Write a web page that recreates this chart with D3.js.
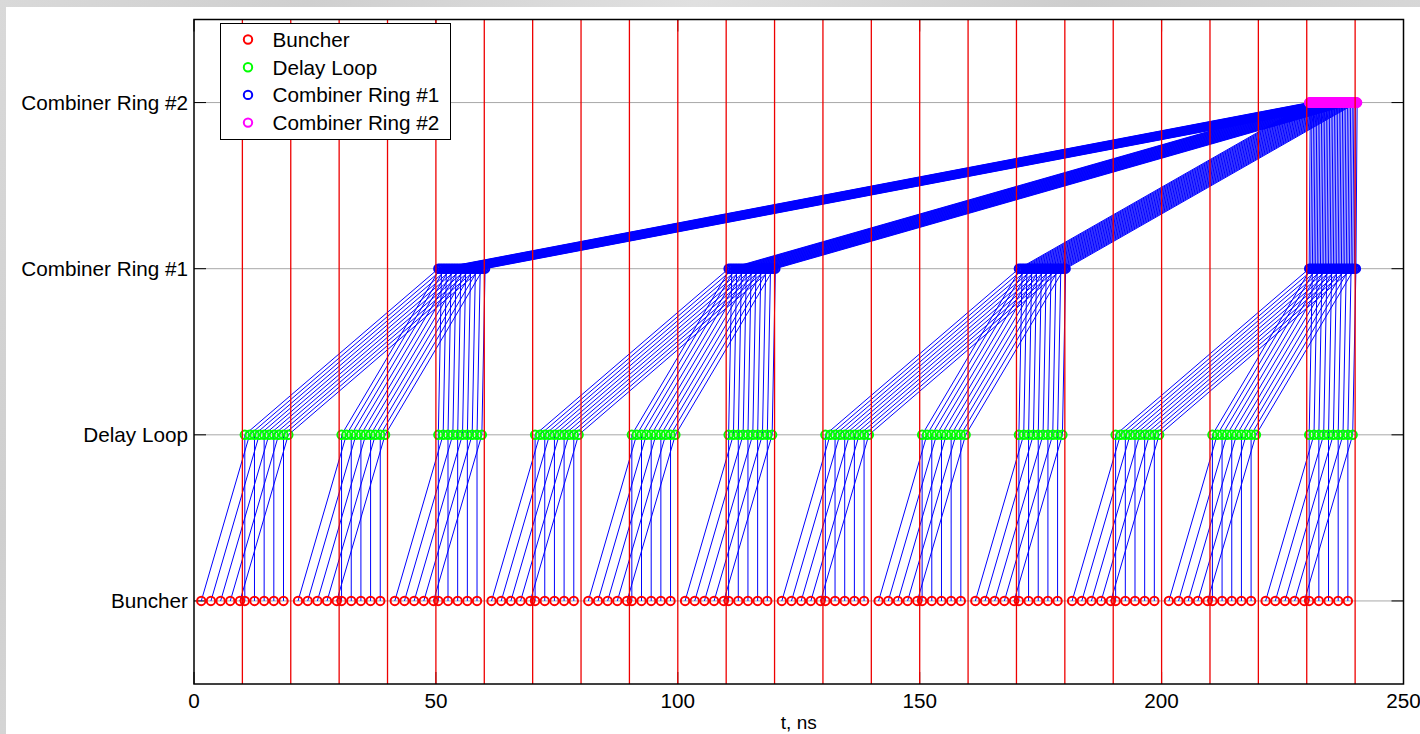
<!DOCTYPE html>
<html>
<head>
<meta charset="utf-8">
<script src="https://cdn.jsdelivr.net/npm/d3@7"></script>
<style>
    body { margin: 0; background: #fff; }
    svg { display: block; font-family: "Liberation Sans", Arial, sans-serif; }
</style>
</head>
<body>
<svg id="chart" width="1420" height="734"></svg>
<script>
// Stages (y categories), bottom to top
const stages = ['Buncher', 'Delay Loop', 'Combiner Ring #1', 'Combiner Ring #2'];
const stageColors = ['#ff0000', '#00ff00', '#0000ff', '#ff00ff'];

// Buncher: one 20 ns period starts at each of these times
const buncherPeriods = [0, 20, 40, 60, 80, 100, 120, 140, 160, 180, 200, 220];
// bunch times inside a period: first half goes round the delay loop, second half passes straight
const buncherOffsetsDelayed = [1.5, 3.5, 5.5, 7.5, 9.5];
const buncherOffsetsDirect = [10.5, 12.5, 14.5, 16.5, 18.5];
const delayLoopDelays = [10, 0];

// Combiner ring #1: 3 delay-loop trains merged per turn
const ring1Delays = [40, 20 + 1 / 3, 2 / 3];
// Combiner ring #2: the 4 ring #1 trains merged
const ring2Delays = [180, 120 + 1 / 12, 60 + 2 / 12, 3 / 12];

// red markers of the 10 ns slots
const slotLines = [10, 20, 30, 40, 50, 60, 70, 80, 90, 100, 110, 120,
                   130, 140, 150, 160, 170, 180, 190, 200, 210, 220, 230, 240];

const xTicks = [0, 50, 100, 150, 200, 250];

// ---- propagate bunches through the stages ----
const bunches = [];
buncherPeriods.forEach((p, i) => {
    [buncherOffsetsDelayed, buncherOffsetsDirect].forEach((offs, h) => {
        offs.forEach(o => {
            const t0 = p + o;
            const t1 = t0 + delayLoopDelays[h];
            const t2 = t1 + ring1Delays[i % 3];
            const t3 = t2 + ring2Delays[Math.floor(i / 3)];
            bunches.push([t0, t1, t2, t3]);
        });
    });
});

const svg = d3.select('#chart');

// backdrop
const defs = svg.append('defs');
const grad = defs.append('linearGradient').attr('id', 'bg').attr('x1', 0).attr('x2', 1).attr('y1', 0).attr('y2', 0.3);
[['0%', '#d9d9d9'], ['20%', '#cfcfcf'], ['45%', '#e0e0e0'], ['70%', '#cdcdcd'], ['100%', '#dadada']]
    .forEach(s => grad.append('stop').attr('offset', s[0]).attr('stop-color', s[1]));
svg.append('rect').attr('width', 1420).attr('height', 734).attr('fill', 'url(#bg)');
svg.append('rect').attr('x', 6).attr('y', 7).attr('width', 1414).attr('height', 727).attr('fill', '#fff');

const plot = { left: 194, right: 1403.5, top: 19.5, bottom: 684 };

const x = d3.scaleLinear().domain([0, 250]).range([plot.left, plot.right]);
const y = d3.scaleLinear().domain([0.5, 4.5]).range([plot.bottom, plot.top]);
const level = i => y(i + 1);

// grid
svg.append('g')
    .selectAll('line')
    .data(stages)
    .join('line')
    .attr('x1', plot.left).attr('x2', plot.right)
    .attr('y1', (d, i) => level(i)).attr('y2', (d, i) => level(i))
    .attr('stroke', '#a8a8a8').attr('stroke-width', 1);

// ticks (inside)
const tickLen = 12;
const ticks = svg.append('g').attr('stroke', '#000').attr('stroke-width', 1);
stages.forEach((d, i) => {
    ticks.append('line').attr('x1', plot.left).attr('x2', plot.left + tickLen)
        .attr('y1', level(i)).attr('y2', level(i));
    ticks.append('line').attr('x1', plot.right).attr('x2', plot.right - tickLen)
        .attr('y1', level(i)).attr('y2', level(i));
});
xTicks.forEach(t => {
    ticks.append('line').attr('x1', x(t)).attr('x2', x(t))
        .attr('y1', plot.bottom).attr('y2', plot.bottom - tickLen);
    ticks.append('line').attr('x1', x(t)).attr('x2', x(t))
        .attr('y1', plot.top).attr('y2', plot.top + tickLen);
});

// connecting lines between stages
const links = [];
bunches.forEach(b => {
    for (let s = 0; s < 3; s++) links.push({ t0: b[s], t1: b[s + 1], s });
});
svg.append('g')
    .selectAll('line')
    .data(links)
    .join('line')
    .attr('x1', d => x(d.t0)).attr('y1', d => level(d.s))
    .attr('x2', d => x(d.t1)).attr('y2', d => level(d.s + 1))
    .attr('stroke', '#0000ff').attr('stroke-width', 1);

// bunch markers
stages.forEach((name, s) => {
    svg.append('g')
        .selectAll('circle')
        .data(bunches)
        .join('circle')
        .attr('cx', d => x(d[s]))
        .attr('cy', level(s))
        .attr('r', 4.2)
        .attr('fill', 'none')
        .attr('stroke', stageColors[s])
        .attr('stroke-width', 2);
});

// red slot lines
svg.append('g')
    .selectAll('line')
    .data(slotLines)
    .join('line')
    .attr('x1', d => x(d)).attr('x2', d => x(d))
    .attr('y1', plot.top).attr('y2', plot.bottom)
    .attr('stroke', '#ee0000').attr('stroke-width', 1.3);

// axes box
svg.append('rect')
    .attr('x', plot.left).attr('y', plot.top)
    .attr('width', plot.right - plot.left).attr('height', plot.bottom - plot.top)
    .attr('fill', 'none').attr('stroke', '#000').attr('stroke-width', 1.5);

// tick labels
svg.append('g')
    .selectAll('text')
    .data(stages)
    .join('text')
    .attr('x', 188).attr('y', (d, i) => level(i))
    .attr('dy', '0.36em')
    .attr('text-anchor', 'end')
    .attr('font-size', 20.7)
    .text(d => d);

svg.append('g')
    .selectAll('text')
    .data(xTicks)
    .join('text')
    .attr('x', d => x(d)).attr('y', 707.5)
    .attr('text-anchor', 'middle')
    .attr('font-size', 20.7)
    .text(d => d);

svg.append('text')
    .attr('x', (plot.left + plot.right) / 2).attr('y', 729)
    .attr('text-anchor', 'middle')
    .attr('font-size', 19)
    .text('t, ns');

// legend
const legend = svg.append('g');
legend.append('rect')
    .attr('x', 220.5).attr('y', 23.5).attr('width', 230).attr('height', 116)
    .attr('fill', '#fff').attr('stroke', '#000').attr('stroke-width', 1);
stages.forEach((name, i) => {
    const ly = 39.5 + i * 27.7;
    legend.append('circle').attr('cx', 248).attr('cy', ly).attr('r', 4.2)
        .attr('fill', 'none').attr('stroke', stageColors[i]).attr('stroke-width', 2);
    legend.append('text').attr('x', 272.5).attr('y', ly).attr('dy', '0.36em')
        .attr('font-size', 20.7).text(name);
});
</script>
</body>
</html>
